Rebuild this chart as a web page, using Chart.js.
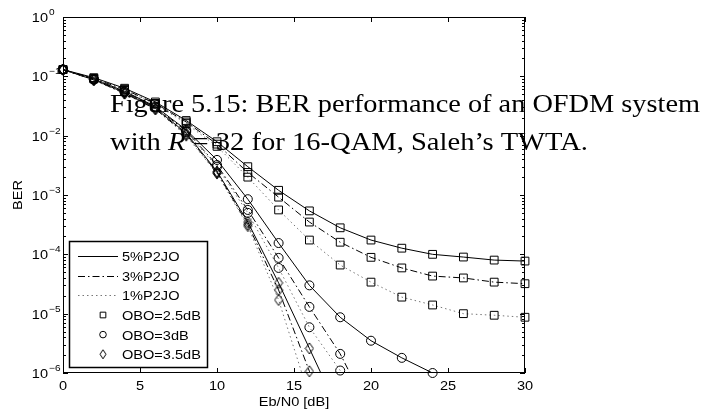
<!DOCTYPE html>
<html>
<head>
<meta charset="utf-8">
<script src="https://cdn.jsdelivr.net/npm/chart.js@4/dist/chart.umd.min.js"></script>
<style>
  html, body { margin: 0; padding: 0; background: #fff; }
  #chart { display: block; }
</style>
</head>
<body>
<canvas id="chart" width="715" height="415"></canvas>
<script>
// Eb/N0 points (dB)
const ebn0 = [0, 2, 4, 6, 8, 10, 12, 14, 16, 18, 20, 22, 24, 26, 28, 30];

// OBO = 2.5 dB (squares)
const sq5 = [0.13, 0.095, 0.063, 0.037, 0.018, 0.0079, 0.0030, 0.0012, 5.4e-4, 2.8e-4, 1.74e-4, 1.27e-4, 1.0e-4, 9.0e-5, 8.0e-5, 7.7e-5];
const sq3 = [0.13, 0.092, 0.060, 0.035, 0.017, 0.0072, 0.0024, 9.2e-4, 3.5e-4, 1.6e-4, 8.9e-5, 5.9e-5, 4.3e-5, 4.0e-5, 3.4e-5, 3.2e-5];
const sq1 = [0.13, 0.090, 0.058, 0.034, 0.016, 0.0066, 0.0020, 5.6e-4, 1.74e-4, 6.6e-5, 3.4e-5, 1.9e-5, 1.4e-5, 1.0e-5, 9.4e-6, 8.7e-6];

// OBO = 3 dB (circles)
const ci5 = [0.13, 0.090, 0.056, 0.031, 0.0125, 0.0039, 8.5e-4, 1.55e-4, 3.0e-5, 8.7e-6, 3.5e-6, 1.8e-6, 1.0e-6];
const ci3 = [0.13, 0.089, 0.055, 0.030, 0.012, 0.0032, 5.6e-4, 8.7e-5, 1.3e-5, 2.1e-6, 2.0e-7];
const ci1 = [0.13, 0.088, 0.054, 0.030, 0.0115, 0.0030, 5.0e-4, 5.9e-5, 5.9e-6, 1.1e-6, 1.5e-7];

// OBO = 3.5 dB (diamonds)
const di5 = [0.13, 0.088, 0.053, 0.029, 0.011, 0.0025, 3.5e-4, 3.3e-5, 2.6e-6, 2.0e-7];
const di3 = [0.13, 0.087, 0.052, 0.028, 0.0105, 0.0024, 3.2e-4, 2.5e-5, 1.07e-6, 5.0e-8];
const di1 = [0.13, 0.086, 0.051, 0.028, 0.010, 0.0023, 3.0e-4, 1.7e-5, 4.0e-7];

const xTicks = [0, 5, 10, 15, 20, 25, 30];
const yDecades = [0, -1, -2, -3, -4, -5, -6];
const legendLines = ['5%P2JO', '3%P2JO', '1%P2JO'];
const legendMarks = ['OBO=2.5dB', 'OBO=3dB', 'OBO=3.5dB'];

const styles = {
  solid: { dash: [], color: '#000' },
  dashdot: { dash: [7, 3, 1.5, 3], color: '#000' },
  dotted: { dash: [1.5, 3], color: '#777' }
};

// matlab style diamond: a bit taller than wide
function diamondCanvas(w, h) {
  const c = document.createElement('canvas');
  c.width = w + 2; c.height = h + 2;
  const g = c.getContext('2d');
  g.strokeStyle = '#000';
  g.lineWidth = 1;
  g.beginPath();
  g.moveTo(c.width / 2, 1);
  g.lineTo(c.width - 1, c.height / 2);
  g.lineTo(c.width / 2, c.height - 1);
  g.lineTo(1, c.height / 2);
  g.closePath();
  g.stroke();
  return c;
}

const marks = {
  square: { style: 'rect', r: 5.5, legendR: 4 },
  circle: { style: 'circle', r: 4.5, legendR: 3.3 },
  diamond: { style: diamondCanvas(8, 11), r: 5.5, legend: diamondCanvas(6, 9) }
};

const series = [
  [sq5, 'solid', 'square'], [sq3, 'dashdot', 'square'], [sq1, 'dotted', 'square'],
  [ci5, 'solid', 'circle'], [ci3, 'dashdot', 'circle'], [ci1, 'dotted', 'circle'],
  [di5, 'solid', 'diamond'], [di3, 'dashdot', 'diamond'], [di1, 'dotted', 'diamond']
];

function toPoints(arr) {
  return arr.map((v, i) => ({ x: ebn0[i], y: v }));
}

const datasets = [];
series.forEach(([arr, ls, mk]) => {
  // the curve itself, clipped to the axes
  datasets.push({
    data: toPoints(arr),
    borderColor: styles[ls].color,
    borderDash: styles[ls].dash,
    borderWidth: 1,
    pointRadius: 0,
    fill: false,
    tension: 0,
    order: 1
  });
  // markers, only inside the y range, not clipped (like matlab)
  datasets.push({
    data: toPoints(arr).filter(p => p.y >= 0.99e-6),
    showLine: false,
    pointStyle: marks[mk].style,
    pointRadius: marks[mk].r,
    pointBorderColor: '#000',
    pointBackgroundColor: 'rgba(0,0,0,0)',
    pointBorderWidth: 1,
    clip: false,
    order: 0
  });
});

const SANS = '"Liberation Sans", Arial, sans-serif';
const SERIF = '"Liberation Serif", "Times New Roman", serif';

function fitText(ctx, parts, x, y, width) {
  let total = 0;
  parts.forEach(p => { ctx.font = p.f; p.w = ctx.measureText(p.t).width; total += p.w; });
  ctx.save();
  ctx.translate(x, y);
  ctx.scale(width / total, 1);
  let cx = 0;
  parts.forEach(p => { ctx.font = p.f; ctx.fillText(p.t, cx, 0); cx += p.w; });
  ctx.restore();
}

// sans text a little wider than normal, like the figure's helvetica
function wideText(ctx, txt, x, y, align) {
  const sx = 1.12;
  const w = ctx.measureText(txt).width * sx;
  let left = x;
  if (align === 'center') left = x - w / 2;
  if (align === 'right') left = x - w;
  ctx.save();
  ctx.textAlign = 'left';
  ctx.translate(left, y);
  ctx.scale(sx, 1);
  ctx.fillText(txt, 0, 0);
  ctx.restore();
}

const axesPlugin = {
  id: 'matlabAxes',
  afterDraw(chart) {
    const ctx = chart.ctx;
    const a = chart.chartArea;
    const xs = chart.scales.x, ys = chart.scales.y;
    ctx.save();
    ctx.strokeStyle = '#000';
    ctx.fillStyle = '#000';
    ctx.lineWidth = 1;

    // box
    ctx.strokeRect(a.left + 0.5, a.top + 0.5, a.right - a.left - 1, a.bottom - a.top - 1);

    // x ticks, inward top and bottom
    ctx.beginPath();
    xTicks.forEach(t => {
      const px = Math.round(xs.getPixelForValue(t)) + 0.5;
      ctx.moveTo(px, a.bottom); ctx.lineTo(px, a.bottom - 5);
      ctx.moveTo(px, a.top); ctx.lineTo(px, a.top + 5);
    });
    // y ticks, major and minor
    yDecades.forEach(d => {
      const py = Math.round(ys.getPixelForValue(Math.pow(10, d))) + 0.5;
      ctx.moveTo(a.left, py); ctx.lineTo(a.left + 5, py);
      ctx.moveTo(a.right, py); ctx.lineTo(a.right - 5, py);
      if (d < 0) {
        for (let m = 2; m <= 9; m++) {
          const my = Math.round(ys.getPixelForValue(m * Math.pow(10, d))) + 0.5;
          ctx.moveTo(a.left, my); ctx.lineTo(a.left + 3, my);
          ctx.moveTo(a.right, my); ctx.lineTo(a.right - 3, my);
        }
      }
    });
    ctx.stroke();

    // x tick labels
    ctx.font = '13px ' + SANS;
    ctx.textBaseline = 'alphabetic';
    xTicks.forEach(t => {
      wideText(ctx, String(t), xs.getPixelForValue(t), 390, 'center');
    });

    // y tick labels 10^n
    yDecades.forEach(d => {
      const py = ys.getPixelForValue(Math.pow(10, d));
      ctx.font = '13px ' + SANS;
      wideText(ctx, '10', 48, py + 5, 'right');
      ctx.font = '9px ' + SANS;
      wideText(ctx, d === 0 ? '0' : '\u2212' + (-d), 49, py - 2, 'left');
    });

    // axis titles
    ctx.font = '13px ' + SANS;
    wideText(ctx, 'Eb/N0 [dB]', (a.left + a.right) / 2, 406, 'center');
    ctx.save();
    ctx.translate(22, 195);
    ctx.rotate(-Math.PI / 2);
    wideText(ctx, 'BER', 0, 0, 'center');
    ctx.restore();

    // legend
    const lx = 69, ly = 241, lw = 138, lh = 126;
    ctx.fillStyle = '#fff';
    ctx.fillRect(lx, ly, lw, lh);
    ctx.lineWidth = 1.5;
    ctx.strokeStyle = '#000';
    ctx.strokeRect(lx + 0.5, ly + 0.5, lw, lh);
    ctx.font = '13px ' + SANS;
    const lineKeys = ['solid', 'dashdot', 'dotted'];
    legendLines.forEach((txt, i) => {
      const yy = 256 + i * 19.6;
      ctx.beginPath();
      ctx.lineWidth = 1;
      ctx.strokeStyle = styles[lineKeys[i]].color;
      ctx.setLineDash(styles[lineKeys[i]].dash);
      ctx.moveTo(78, Math.round(yy) + 0.5);
      ctx.lineTo(118, Math.round(yy) + 0.5);
      ctx.stroke();
      ctx.setLineDash([]);
      ctx.fillStyle = '#000';
      wideText(ctx, txt, 122, yy + 5, 'left');
    });
    const markKeys = ['square', 'circle', 'diamond'];
    legendMarks.forEach((txt, i) => {
      const yy = 315 + i * 19.6;
      const mk = marks[markKeys[i]];
      ctx.strokeStyle = '#000';
      ctx.fillStyle = 'rgba(0,0,0,0)';
      ctx.lineWidth = 1;
      if (mk.legend) {
        ctx.drawImage(mk.legend, 103 - mk.legend.width / 2, yy - mk.legend.height / 2);
      } else {
        Chart.helpers.drawPoint(ctx, { pointStyle: mk.style, radius: mk.legendR, borderWidth: 1, rotation: 0 }, 103, yy);
      }
      ctx.fillStyle = '#000';
      wideText(ctx, txt, 122, yy + 5, 'left');
    });

    // caption text overlapping the figure
    ctx.fillStyle = '#000';
    ctx.textAlign = 'left';
    const f = '26px ' + SERIF, fi = 'italic 26px ' + SERIF;
    fitText(ctx, [{ t: 'Figure 5.15: BER performance of an OFDM system', f: f }], 110, 112, 590);
    fitText(ctx, [
      { t: 'with ', f: f },
      { t: 'R', f: fi },
      { t: ' = 32 for 16-QAM, Saleh\u2019s TWTA.', f: f }
    ], 110, 150, 478);
    ctx.restore();
  }
};

new Chart(document.getElementById('chart'), {
  type: 'line',
  data: { datasets: datasets },
  options: {
    responsive: false,
    animation: false,
    devicePixelRatio: 1,
    layout: { padding: { top: 17, right: 190, left: 0, bottom: 0 } },
    plugins: { legend: { display: false }, tooltip: { enabled: false } },
    scales: {
      x: {
        type: 'linear', min: 0, max: 30,
        grid: { display: false }, border: { display: false },
        ticks: { display: false },
        afterFit: s => { s.height = 42; }
      },
      y: {
        type: 'logarithmic', min: 1e-6, max: 1,
        grid: { display: false }, border: { display: false },
        ticks: { display: false },
        afterFit: s => { s.width = 63; }
      }
    }
  },
  plugins: [axesPlugin]
});
</script>
</body>
</html>
